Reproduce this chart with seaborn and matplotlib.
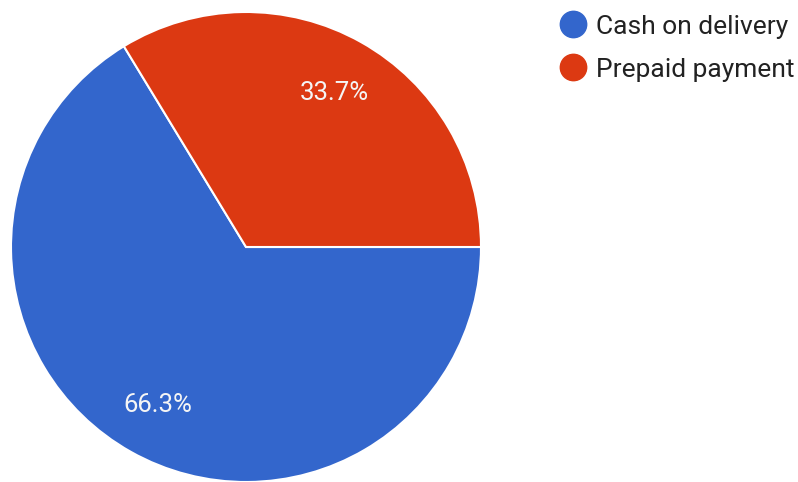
import matplotlib
matplotlib.use("Agg")
import matplotlib.pyplot as plt
from matplotlib.lines import Line2D
import seaborn as sns

# Payment method shares (percent)
categories = ["Cash on delivery", "Prepaid payment"]
shares = [66.3, 33.7]
colors = ["#3366CC", "#DC3912"]

sns.set_theme(style="white")
plt.rcParams["font.family"] = ["Roboto", "DejaVu Sans"]

fig = plt.figure(figsize=(7.98, 4.82), dpi=100)
ax = fig.add_axes([11 / 798, 0 / 482, 470 / 798, 470 / 482])

wedges, texts, autotexts = ax.pie(
    shares,
    colors=sns.color_palette(colors),
    startangle=0,
    counterclock=False,
    autopct="%.1f%%",
    pctdistance=0.77,
    wedgeprops=dict(edgecolor="white", linewidth=1.5),
    textprops=dict(color="#F5F5F5", fontsize=18.5),
)
autotexts[1].set_position((autotexts[1].get_position()[0],
                           autotexts[1].get_position()[1] - 0.015))
ax.set_aspect("equal")
ax.set_xlim(-1.0, 1.0)
ax.set_ylim(-1.0, 1.0)

handles = [
    Line2D([0], [0], marker="o", linestyle="", markersize=19,
           markerfacecolor=c, markeredgecolor=c)
    for c in colors
]
fig.legend(
    handles, categories,
    loc="upper left",
    bbox_to_anchor=(548 / 798, 1 - 4 / 482),
    frameon=False,
    fontsize=19,
    labelcolor="#222222",
    handletextpad=0.3,
    labelspacing=0.72,
    borderaxespad=0,
    handlelength=1.1,
)

fig.savefig("out.png", dpi=100)
